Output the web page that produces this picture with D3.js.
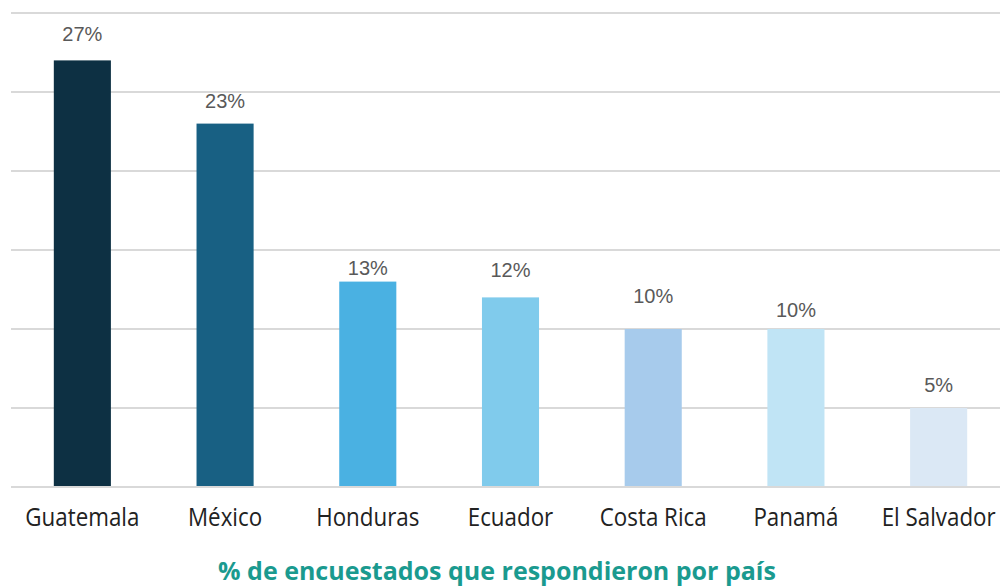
<!DOCTYPE html>
<html>
<head>
<meta charset="utf-8">
<script src="https://cdn.jsdelivr.net/npm/d3@7"></script>
<style>
  body { margin: 0; background: #fff; }
  svg { display: block; }
</style>
</head>
<body>
<div id="chart"></div>
<script>
const countries = ["Guatemala", "México", "Honduras", "Ecuador", "Costa Rica", "Panamá", "El Salvador"];
const shares = [27, 23, 13, 12, 10, 10, 5];
const gridTicks = [0, 5, 10, 15, 20, 25, 30];
const barColors = ["#0d3043", "#186083", "#4ab1e2", "#80cbec", "#a7cbec", "#c0e4f5", "#dbe8f5"];
// the original labels sit at slightly uneven heights above the bars
const labelLift = [26, 23, 14, 27, 33, 19, 23];
const title = "% de encuestados que respondieron por país";

const width = 1000, height = 586;
const margin = { top: 13, right: 0, bottom: 99, left: 11 };

const svg = d3.select("#chart")
    .append("svg")
    .attr("width", width)
    .attr("height", height);

const xScale = d3.scaleBand()
    .domain(countries)
    .range([margin.left, 1010])
    .paddingInner(0.6)
    .paddingOuter(0.3);

const yScale = d3.scaleLinear()
    .domain([0, 30])
    .range([height - margin.bottom, margin.top]);

// gridlines
svg.append("g")
    .selectAll("line")
    .data(gridTicks)
    .enter()
    .append("line")
    .attr("x1", margin.left)
    .attr("x2", width)
    .attr("y1", d => yScale(d))
    .attr("y2", d => yScale(d))
    .attr("stroke", "#d9d9d9")
    .attr("stroke-width", 2);

svg.append("g")
    .selectAll("rect")
    .data(shares)
    .enter()
    .append("rect")
    .attr("x", (d, i) => xScale(countries[i]))
    .attr("y", d => yScale(d))
    .attr("width", xScale.bandwidth())
    .attr("height", d => yScale(0) - yScale(d) - 1)
    .attr("fill", (d, i) => barColors[i]);

svg.append("g")
    .selectAll("text")
    .data(shares)
    .enter()
    .append("text")
    .attr("x", (d, i) => xScale(countries[i]) + xScale.bandwidth() / 2)
    .attr("y", (d, i) => yScale(d) - labelLift[i] + 7)
    .attr("text-anchor", "middle")
    .style("font-family", "'Liberation Sans', Arial, sans-serif")
    .style("font-size", "20px")
    .style("fill", "#595959")
    .text(d => d + "%");

// category axis
const xAxis = d3.axisBottom(xScale).tickSize(0).tickPadding(0);
const axisG = svg.append("g")
    .attr("transform", `translate(0, ${yScale(0)})`)
    .call(xAxis);
axisG.select(".domain").remove();
axisG.selectAll("text")
    .attr("x", 0)
    .attr("y", 0)
    .attr("dy", 0)
    .attr("transform", "translate(0, 39) scale(0.86, 1)")
    .style("font-family", "'Open Sans', sans-serif")
    .style("font-size", "26px")
    .style("fill", "#222");

svg.append("text")
    .attr("x", width / 2 - 3)
    .attr("y", 580)
    .attr("text-anchor", "middle")
    .style("font-family", "'Open Sans', sans-serif")
    .style("font-weight", "bold")
    .style("font-size", "25px")
    .style("fill", "#1a9a8f")
    .text(title);
</script>
</body>
</html>
